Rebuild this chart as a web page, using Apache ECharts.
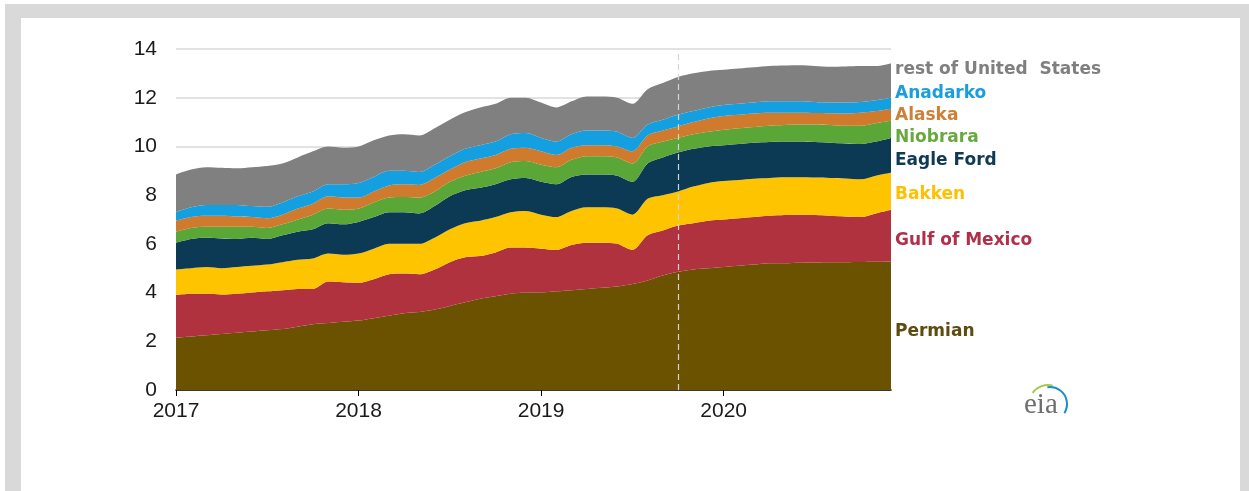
<!DOCTYPE html>
<html>
<head>
<meta charset="utf-8">
<title>US crude oil production by region</title>
<script src="https://cdn.jsdelivr.net/npm/echarts@6/dist/echarts.min.js"></script>
<style>
  html, body { margin: 0; padding: 0; background: #fff; }
  .frame { position: absolute; left: 5px; top: 4px; width: 1244px; height: 487px; background: #d9d9d9; }
  .panel { position: absolute; left: 21px; top: 18px; width: 1219px; height: 473px; background: #fff; }
  #chart { position: absolute; left: 0; top: 0; width: 1249px; height: 491px; }
</style>
</head>
<body>
<div class="frame"></div>
<div class="panel"></div>
<div id="chart"></div>
<script>
// months Jan 2017 .. Dec 2020
var months = []
for (var y = 2017; y <= 2020; y++) {
  for (var m = 1; m <= 12; m++) {
    months.push(y + '-' + (m < 10 ? '0' + m : m))
  }
}
var forecastStart = '2019-10'

// million barrels per day
var permian = [2.15, 2.2, 2.25, 2.3, 2.35, 2.4, 2.45, 2.5, 2.6, 2.7, 2.75, 2.8,
  2.85, 2.95, 3.05, 3.15, 3.2, 3.3, 3.45, 3.6, 3.75, 3.85, 3.95, 4.0,
  4.0, 4.05, 4.1, 4.15, 4.2, 4.25, 4.35, 4.5, 4.7, 4.85, 4.95, 5.0,
  5.05, 5.1, 5.15, 5.2, 5.2, 5.22, 5.23, 5.24, 5.25, 5.26, 5.27, 5.28]
var gulfOfMexico = [1.75, 1.75, 1.7, 1.62, 1.6, 1.6, 1.6, 1.6, 1.55, 1.45, 1.7, 1.62,
  1.55, 1.6, 1.7, 1.63, 1.55, 1.65, 1.8, 1.85, 1.75, 1.8, 1.9, 1.85,
  1.8, 1.7, 1.85, 1.9, 1.85, 1.75, 1.4, 1.85, 1.85, 1.9, 1.9, 1.95,
  1.95, 1.95, 1.95, 1.95, 1.98, 1.98, 1.95, 1.91, 1.87, 1.84, 1.98, 2.12]
var bakken = [1.05, 1.05, 1.1, 1.08, 1.1, 1.1, 1.1, 1.15, 1.2, 1.25, 1.15, 1.13,
  1.2, 1.25, 1.25, 1.22, 1.25, 1.3, 1.35, 1.4, 1.45, 1.45, 1.45, 1.5,
  1.4, 1.35, 1.4, 1.45, 1.45, 1.45, 1.45, 1.5, 1.45, 1.4, 1.5, 1.55,
  1.58, 1.57, 1.57, 1.55, 1.55, 1.53, 1.54, 1.55, 1.56, 1.55, 1.55, 1.52]
var eagleFord = [1.1, 1.2, 1.2, 1.22, 1.15, 1.15, 1.05, 1.1, 1.15, 1.2, 1.25, 1.25,
  1.3, 1.3, 1.3, 1.3, 1.25, 1.3, 1.35, 1.35, 1.35, 1.35, 1.35, 1.35,
  1.35, 1.35, 1.4, 1.35, 1.35, 1.35, 1.35, 1.45, 1.55, 1.6, 1.55, 1.5,
  1.47, 1.48, 1.48, 1.48, 1.47, 1.47, 1.46, 1.45, 1.44, 1.45, 1.4, 1.43]
var niobrara = [0.45, 0.45, 0.45, 0.48, 0.5, 0.45, 0.45, 0.45, 0.5, 0.6, 0.6, 0.6,
  0.55, 0.6, 0.6, 0.62, 0.65, 0.6, 0.6, 0.6, 0.65, 0.65, 0.7, 0.7,
  0.7, 0.7, 0.7, 0.75, 0.75, 0.75, 0.75, 0.7, 0.65, 0.6, 0.6, 0.6,
  0.63, 0.65, 0.65, 0.67, 0.68, 0.7, 0.72, 0.73, 0.73, 0.75, 0.75, 0.7]
var alaska = [0.45, 0.45, 0.45, 0.45, 0.42, 0.4, 0.4, 0.4, 0.45, 0.45, 0.5, 0.5,
  0.45, 0.45, 0.5, 0.53, 0.52, 0.55, 0.5, 0.55, 0.55, 0.55, 0.55, 0.55,
  0.55, 0.5, 0.5, 0.45, 0.45, 0.45, 0.5, 0.45, 0.45, 0.47, 0.5, 0.55,
  0.57, 0.55, 0.55, 0.53, 0.5, 0.48, 0.47, 0.48, 0.5, 0.53, 0.5, 0.5]
var anadarko = [0.35, 0.4, 0.45, 0.45, 0.48, 0.45, 0.47, 0.5, 0.5, 0.5, 0.5, 0.55,
  0.6, 0.6, 0.6, 0.55, 0.53, 0.55, 0.55, 0.55, 0.55, 0.55, 0.6, 0.6,
  0.55, 0.55, 0.55, 0.6, 0.6, 0.6, 0.55, 0.45, 0.45, 0.48, 0.45, 0.45,
  0.45, 0.45, 0.45, 0.47, 0.47, 0.47, 0.45, 0.44, 0.45, 0.44, 0.45, 0.45]
var restOfUS = [1.55, 1.55, 1.55, 1.52, 1.5, 1.6, 1.68, 1.6, 1.6, 1.65, 1.55, 1.5,
  1.5, 1.5, 1.45, 1.5, 1.5, 1.5, 1.5, 1.5, 1.55, 1.55, 1.5, 1.45,
  1.45, 1.4, 1.35, 1.4, 1.4, 1.4, 1.4, 1.45, 1.5, 1.55, 1.55, 1.5,
  1.45, 1.45, 1.45, 1.45, 1.47, 1.48, 1.48, 1.47, 1.48, 1.48, 1.4, 1.42]

var regions = [
  { name: 'Permian', data: permian, color: '#6b5200', labelColor: '#5e4b0e', labelY: 333 },
  { name: 'Gulf of Mexico', data: gulfOfMexico, color: '#b0323f', labelColor: '#b0304a', labelY: 242 },
  { name: 'Bakken', data: bakken, color: '#ffc400', labelColor: '#ffc000', labelY: 196 },
  { name: 'Eagle Ford', data: eagleFord, color: '#0c3a55', labelColor: '#0e3a55', labelY: 162 },
  { name: 'Niobrara', data: niobrara, color: '#5aa636', labelColor: '#68a83e', labelY: 139 },
  { name: 'Alaska', data: alaska, color: '#cf7a2c', labelColor: '#cf8038', labelY: 117 },
  { name: 'Anadarko', data: anadarko, color: '#14a0e0', labelColor: '#1a9ee0', labelY: 95 },
  { name: 'rest of United  States', data: restOfUS, color: '#808080', labelColor: '#7f7f7f', labelY: 71 }
]

var axisFont = '"Liberation Sans Narrow", "Liberation Sans", Arial, sans-serif'

var chart = echarts.init(document.getElementById('chart'), null, { renderer: 'canvas' })

var series = regions.map(function (r, i) {
  var s = {
    name: r.name,
    type: 'line',
    stack: 'total',
    data: r.data,
    smooth: 0.3,
    showSymbol: false,
    lineStyle: { width: 0 },
    areaStyle: { color: r.color, opacity: 1 },
    itemStyle: { color: r.color }
  }
  if (i === regions.length - 1) {
    s.markLine = {
      silent: true,
      symbol: 'none',
      label: { show: false },
      lineStyle: { type: [6, 4], color: '#d4d4d4', width: 1.2 },
      data: [{ xAxis: forecastStart }]
    }
  }
  return s
})

var labels = regions.map(function (r) {
  return {
    type: 'text',
    left: 895,
    top: r.labelY - 10,
    style: {
      text: r.name,
      fill: r.labelColor,
      font: 'bold 17px "DejaVu Sans", sans-serif'
    }
  }
})

// eia logo
labels.push({
  type: 'text',
  left: 1024,
  top: 391,
  style: { text: 'eia', fill: '#6e6e6e', font: '29px "Liberation Serif", "DejaVu Serif", serif' }
})
labels.push({
  type: 'arc',
  shape: { cx: 1048, cy: 404, r: 19, startAngle: -Math.PI * 0.8, endAngle: -Math.PI * 0.42 },
  style: { stroke: '#a5c94a', lineWidth: 2, fill: null }
})
labels.push({
  type: 'arc',
  shape: { cx: 1050, cy: 404, r: 17, startAngle: -Math.PI * 0.55, endAngle: Math.PI * 0.18 },
  style: { stroke: '#1a8fd0', lineWidth: 2, fill: null }
})

var option = {
  animation: false,
  grid: { left: 176, right: 358, top: 49, bottom: 101, containLabel: false },
  xAxis: {
    type: 'category',
    data: months,
    boundaryGap: false,
    axisLine: { lineStyle: { color: '#000', width: 1.5 } },
    axisTick: { show: true, interval: 11, length: 6, lineStyle: { color: '#000' } },
    axisLabel: {
      interval: 11,
      margin: 11,
      color: '#1a1a1a',
      fontSize: 21,
      fontFamily: axisFont,
      formatter: function (v) { return v.slice(0, 4) }
    },
    splitLine: { show: false }
  },
  yAxis: {
    type: 'value',
    min: 0,
    max: 14,
    interval: 2,
    axisLine: { show: false },
    axisTick: { show: false },
    axisLabel: {
      margin: 19,
      color: '#1a1a1a',
      fontSize: 21,
      fontFamily: axisFont
    },
    splitLine: { lineStyle: { color: '#d9d9d9', width: 1.5 } }
  },
  series: series,
  graphic: labels
}

chart.setOption(option)
</script>
</body>
</html>
